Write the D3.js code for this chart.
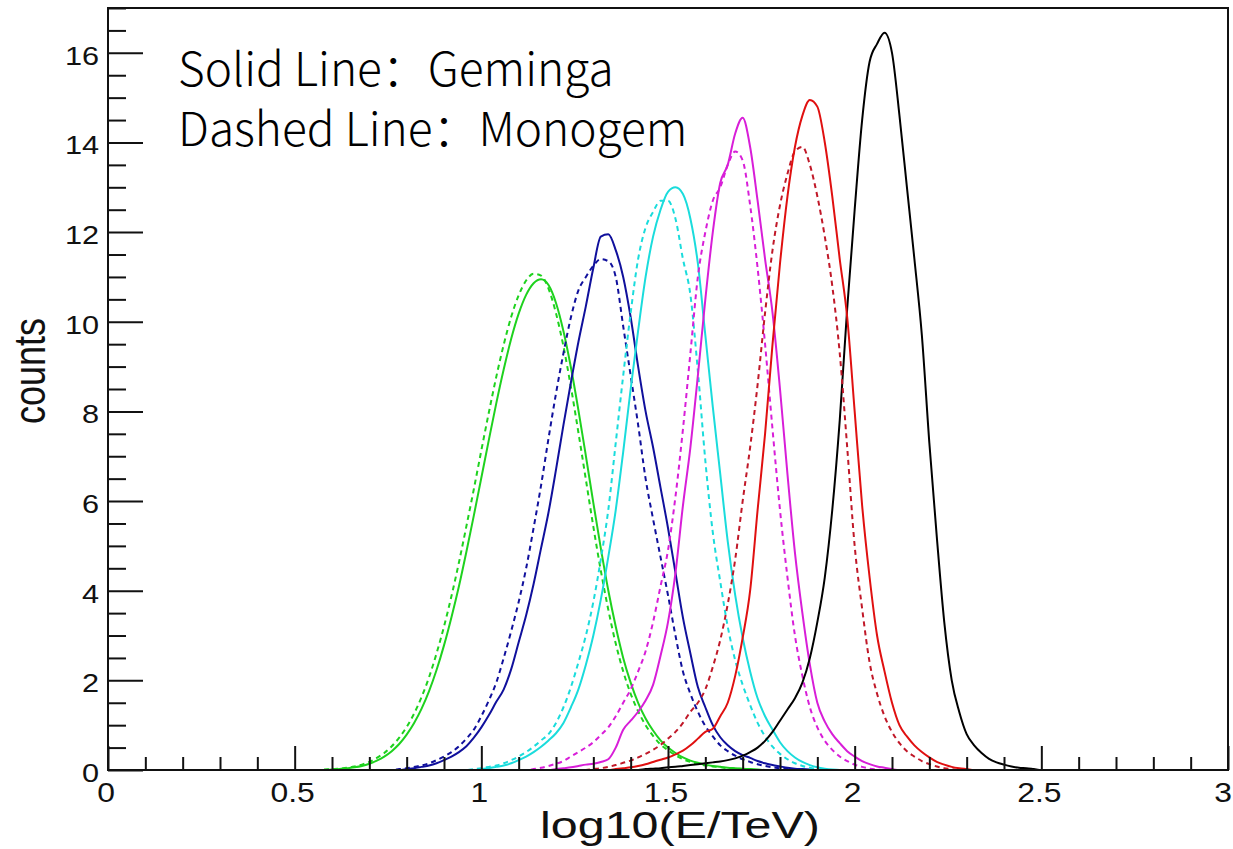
<!DOCTYPE html>
<html>
<head>
<meta charset="utf-8">
<style>
  body { margin: 0; background: #fff; }
  svg { display: block; }
</style>
</head>
<body>
<script src="https://d3js.org/d3.v7.min.js"></script>
<div id="main"></div>
<script>
// histogram counts, one value per 0.02 bin of log10(E/TeV), starting at xxxStart
const binWidth = 0.02;

const greenSolidStart = 0.60;
const greenSolid = [0.01,0.02,0.04,0.06,0.09,0.14,0.21,0.30,0.42,0.58,0.79,1.05,1.37,1.76,2.23,2.78,3.41,4.10,4.87,5.68,
  6.52,7.36,8.18,8.94,9.62,10.18,10.60,10.86,10.95,10.82,10.42,9.79,8.98,8.03,7.01,5.96,4.95,4.01,3.20,2.50,
  1.95,1.50,1.15,0.88,0.66,0.50,0.38,0.28,0.21,0.16,0.12,0.09,0.07,0.05,0.04,0.03,0.02,0.01];

const greenDashedStart = 0.58;
const greenDashed = [0.01,0.02,0.03,0.05,0.08,0.12,0.18,0.27,0.38,0.53,0.72,0.96,1.26,1.63,2.07,2.60,3.20,3.88,4.63,5.44,
  6.27,7.13,7.97,8.77,9.49,10.11,10.59,10.92,11.07,11.03,10.74,10.19,9.45,8.54,7.53,6.48,5.43,4.45,3.58,2.82,
  2.20,1.70,1.31,1.00,0.76,0.57,0.44,0.33,0.24,0.18,0.14,0.10,0.08,0.06,0.04,0.03,0.02,0.01];

const blueSolidStart = 0.80;
const blueSolid = [0.02,0.04,0.07,0.10,0.15,0.22,0.30,0.40,0.53,0.72,0.95,1.22,1.52,1.80,2.25,2.85,3.45,4.15,4.95,5.75,
  6.70,7.70,8.65,9.55,10.35,11.20,11.90,11.95,11.60,11.00,10.10,9.00,8.00,7.20,6.30,5.40,4.40,3.40,2.60,1.85,
  1.40,1.00,0.73,0.55,0.42,0.33,0.27,0.20,0.15,0.11,0.08,0.05,0.03,0.02,0.01];

const blueDashedStart = 0.78;
const blueDashed = [0.02,0.04,0.07,0.10,0.15,0.22,0.30,0.40,0.53,0.70,0.90,1.20,1.55,1.95,2.50,3.10,3.75,4.50,5.40,6.35,
  7.40,8.40,9.30,10.10,10.70,11.00,11.25,11.40,11.35,11.00,9.90,8.80,7.70,6.50,5.60,4.75,3.90,3.00,2.20,1.70,
  1.30,0.98,0.75,0.55,0.42,0.32,0.24,0.18,0.13,0.09,0.06,0.04,0.02,0.01];

const cyanSolidStart = 1.00;
const cyanSolid = [0.02,0.04,0.07,0.10,0.15,0.22,0.30,0.40,0.52,0.66,0.82,1.05,1.40,1.80,2.35,3.00,3.80,4.75,5.80,7.10,
  8.50,9.80,11.00,11.90,12.50,12.90,13.00,12.85,12.30,11.30,9.70,8.10,6.60,5.10,3.90,2.95,2.20,1.60,1.20,0.90,
  0.62,0.42,0.28,0.18,0.11,0.06,0.03,0.01];

const cyanDashedStart = 0.98;
const cyanDashed = [0.02,0.04,0.07,0.10,0.15,0.22,0.30,0.40,0.52,0.66,0.80,1.05,1.40,1.85,2.40,3.00,3.75,4.70,5.80,7.30,
  8.80,10.20,11.40,12.10,12.45,12.70,12.70,12.30,11.40,10.60,8.90,6.90,5.30,4.20,3.20,2.45,1.90,1.45,1.05,0.75,
  0.52,0.36,0.24,0.15,0.09,0.05,0.02];

const magentaSolidStart = 1.20;
const magentaSolid = [0.02,0.04,0.06,0.09,0.12,0.14,0.18,0.24,0.50,0.90,1.10,1.30,1.55,1.90,2.55,3.30,4.40,5.90,7.20,8.80,
  10.50,12.00,13.10,13.50,14.20,14.55,13.90,12.70,11.40,10.20,8.50,6.60,4.85,3.50,2.35,1.50,1.08,0.80,0.60,0.42,
  0.30,0.20,0.13,0.08,0.05,0.02];

const magentaDashedStart = 1.14;
const magentaDashed = [0.02,0.05,0.09,0.14,0.20,0.30,0.40,0.50,0.62,0.78,0.95,1.20,1.50,1.80,2.20,2.65,3.30,4.10,4.90,6.10,
  7.60,9.30,11.00,12.00,12.70,13.00,13.50,13.80,13.60,12.60,11.20,9.50,7.60,5.80,4.30,3.00,2.10,1.40,0.95,0.65,
  0.45,0.30,0.20,0.12,0.07,0.03,0.01];

const redSolidStart = 1.36;
const redSolid = [0.02,0.04,0.06,0.09,0.13,0.18,0.23,0.28,0.35,0.43,0.55,0.70,0.85,0.92,1.20,1.50,2.10,2.95,4.00,5.80,
  7.50,9.50,11.30,12.80,13.90,14.60,14.95,14.80,14.00,12.80,11.40,10.10,8.00,5.90,4.30,3.00,2.20,1.50,1.00,0.75,
  0.55,0.40,0.28,0.18,0.12,0.07,0.04,0.02];

const redDashedStart = 1.30;
const redDashed = [0.02,0.04,0.07,0.11,0.16,0.21,0.28,0.36,0.45,0.56,0.70,0.85,1.05,1.30,1.50,1.80,2.30,2.90,3.70,4.70,
  6.00,7.20,8.60,10.20,11.60,12.60,13.30,13.80,13.90,13.50,12.80,11.90,10.80,9.30,7.20,5.00,3.60,2.40,1.70,1.20,
  0.85,0.60,0.42,0.30,0.20,0.13,0.08,0.04,0.02];

const blackSolidStart = 1.44;
const blackSolid = [0.02,0.03,0.04,0.06,0.07,0.09,0.11,0.13,0.15,0.17,0.19,0.22,0.26,0.32,0.40,0.50,0.65,0.85,1.10,1.35,
  1.60,1.95,2.50,3.30,4.30,5.80,7.80,10.30,12.50,14.50,15.80,16.20,16.45,16.00,14.60,13.00,11.40,9.70,7.30,5.20,
  3.30,2.00,1.30,0.80,0.55,0.38,0.25,0.17,0.12,0.08,0.05,0.04,0.02];

const xTickValues = [0, 0.5, 1, 1.5, 2, 2.5, 3];
const xTickLabels = ["0", "0.5", "1", "1.5", "2", "2.5", "3"];
const yTickValues = [0, 2, 4, 6, 8, 10, 12, 14, 16];
const legendLines = ["Solid Line：Geminga", "Dashed Line：Monogem"];

// series in drawing order (red last, it sits on the baseline)
const series = [
  { start: greenSolidStart, values: greenSolid, color: "#1ed21e", dashed: false },
  { start: greenDashedStart, values: greenDashed, color: "#1ed21e", dashed: true },
  { start: blueSolidStart, values: blueSolid, color: "#10109c", dashed: false },
  { start: blueDashedStart, values: blueDashed, color: "#10109c", dashed: true },
  { start: cyanSolidStart, values: cyanSolid, color: "#1adcdc", dashed: false },
  { start: cyanDashedStart, values: cyanDashed, color: "#1adcdc", dashed: true },
  { start: magentaSolidStart, values: magentaSolid, color: "#d81ed8", dashed: false },
  { start: magentaDashedStart, values: magentaDashed, color: "#d81ed8", dashed: true },
  { start: blackSolidStart, values: blackSolid, color: "#000000", dashed: false },
  { start: redDashedStart, values: redDashed, color: "#c01828", dashed: true },
  { start: redSolidStart, values: redSolid, color: "#e01010", dashed: false }
];

var W = 1233, H = 849;
var frame = { left: 108, right: 1228, top: 8, bottom: 770 };
var labelFont = "'Liberation Sans', Arial, sans-serif";

var svg = d3.select("#main").append("svg")
  .attr("width", W).attr("height", H);

var x = d3.scaleLinear().domain([0, 3]).range([frame.left, frame.right]);
var y = d3.scaleLinear().domain([0, 17]).range([frame.bottom, frame.top]);

svg.append("clipPath").attr("id", "plotclip")
  .append("rect")
  .attr("x", frame.left).attr("y", frame.top)
  .attr("width", frame.right - frame.left).attr("height", frame.bottom - frame.top);

// turn a series into points, with zero counts outside its bins
function points(s) {
  var pts = [[0, 0], [s.start - binWidth, 0]];
  s.values.forEach(function (v, i) { pts.push([s.start + i * binWidth, v]); });
  pts.push([s.start + s.values.length * binWidth, 0]);
  pts.push([3, 0]);
  return pts;
}

var line = d3.line()
  .x(function (d) { return x(d[0]); })
  .y(function (d) { return y(d[1]); })
  .curve(d3.curveMonotoneX);

svg.append("g").attr("clip-path", "url(#plotclip)")
  .selectAll("path")
  .data(series)
  .enter().append("path")
  .attr("d", function (d) { return line(points(d)); })
  .attr("fill", "none")
  .attr("stroke", function (d) { return d.color; })
  .attr("stroke-width", 2)
  .attr("stroke-dasharray", function (d) { return d.dashed ? "5,4" : null; })
  .attr("stroke-linejoin", "round");

// ticks drawn inward like ROOT, labels added by hand below
var yMinor = d3.range(0, 17.01, 0.5).filter(function (v) { return v % 2 !== 0; });
var xMinor = d3.range(0, 3.001, 0.1).map(function (v) { return +v.toFixed(1); })
  .filter(function (v) { return Math.abs(v * 2 - Math.round(v * 2)) > 1e-6; });

function noDomain(g) { g.select(".domain").remove(); }

svg.append("g")
  .attr("transform", "translate(" + frame.left + ",0)")
  .call(d3.axisLeft(y).tickValues(yMinor).tickSize(-18).tickSizeOuter(0).tickFormat(""))
  .call(noDomain);
svg.append("g")
  .attr("transform", "translate(" + frame.left + ",0)")
  .call(d3.axisLeft(y).tickValues(yTickValues).tickSize(-35).tickSizeOuter(0).tickFormat(""))
  .call(noDomain);
svg.append("g")
  .attr("transform", "translate(0," + frame.bottom + ")")
  .call(d3.axisBottom(x).tickValues(xMinor).tickSize(-13).tickSizeOuter(0).tickFormat(""))
  .call(noDomain);
svg.append("g")
  .attr("transform", "translate(0," + frame.bottom + ")")
  .call(d3.axisBottom(x).tickValues(xTickValues).tickSize(-24).tickSizeOuter(0).tickFormat(""))
  .call(noDomain);

svg.selectAll(".tick line").attr("stroke", "#111").attr("stroke-width", 2);
svg.selectAll(".tick text").remove();

// y tick labels
svg.append("g").selectAll("text")
  .data(yTickValues)
  .enter().append("text")
  .attr("transform", function (d) { return "translate(99," + (y(d) + 12) + ") scale(1.18,1)"; })
  .attr("text-anchor", "end")
  .attr("font-family", labelFont)
  .attr("font-size", 26)
  .attr("fill", "#111")
  .text(function (d) { return d; });

// x tick labels
svg.append("g").selectAll("text")
  .data(xTickValues)
  .enter().append("text")
  .attr("transform", function (d, i) {
    var px = i === xTickValues.length - 1 ? x(d) + 4 : x(d) - 2;
    return "translate(" + px + ",802) scale(1.18,1)";
  })
  .attr("text-anchor", function (d, i) { return i === xTickValues.length - 1 ? "end" : "middle"; })
  .attr("font-family", labelFont)
  .attr("font-size", 27)
  .attr("fill", "#111")
  .text(function (d, i) { return xTickLabels[i]; });

// frame box
svg.append("rect")
  .attr("x", frame.left).attr("y", frame.top)
  .attr("width", frame.right - frame.left).attr("height", frame.bottom - frame.top)
  .attr("fill", "none").attr("stroke", "#111").attr("stroke-width", 2);

// axis titles
svg.append("text")
  .attr("x", 680).attr("y", 838)
  .attr("text-anchor", "middle")
  .attr("font-family", labelFont)
  .attr("font-size", 36)
  .attr("textLength", 280).attr("lengthAdjust", "spacingAndGlyphs")
  .attr("fill", "#111")
  .text("log10(E/TeV)");

svg.append("text")
  .attr("transform", "translate(45,371) scale(1.22,1) rotate(-90)")
  .attr("text-anchor", "middle")
  .attr("font-family", labelFont)
  .attr("font-size", 36)
  .attr("fill", "#111")
  .text("counts");

// legend note
svg.selectAll(".note")
  .data(legendLines)
  .enter().append("text")
  .attr("class", "note")
  .attr("x", 178)
  .attr("y", function (d, i) { return 86 + i * 60; })
  .attr("font-family", "'Noto Sans CJK SC', 'Noto Sans', sans-serif")
  .attr("font-size", 46)
  .attr("font-weight", 300)
  .attr("fill", "#000")
  .text(function (d) { return d; });
</script>
</body>
</html>
